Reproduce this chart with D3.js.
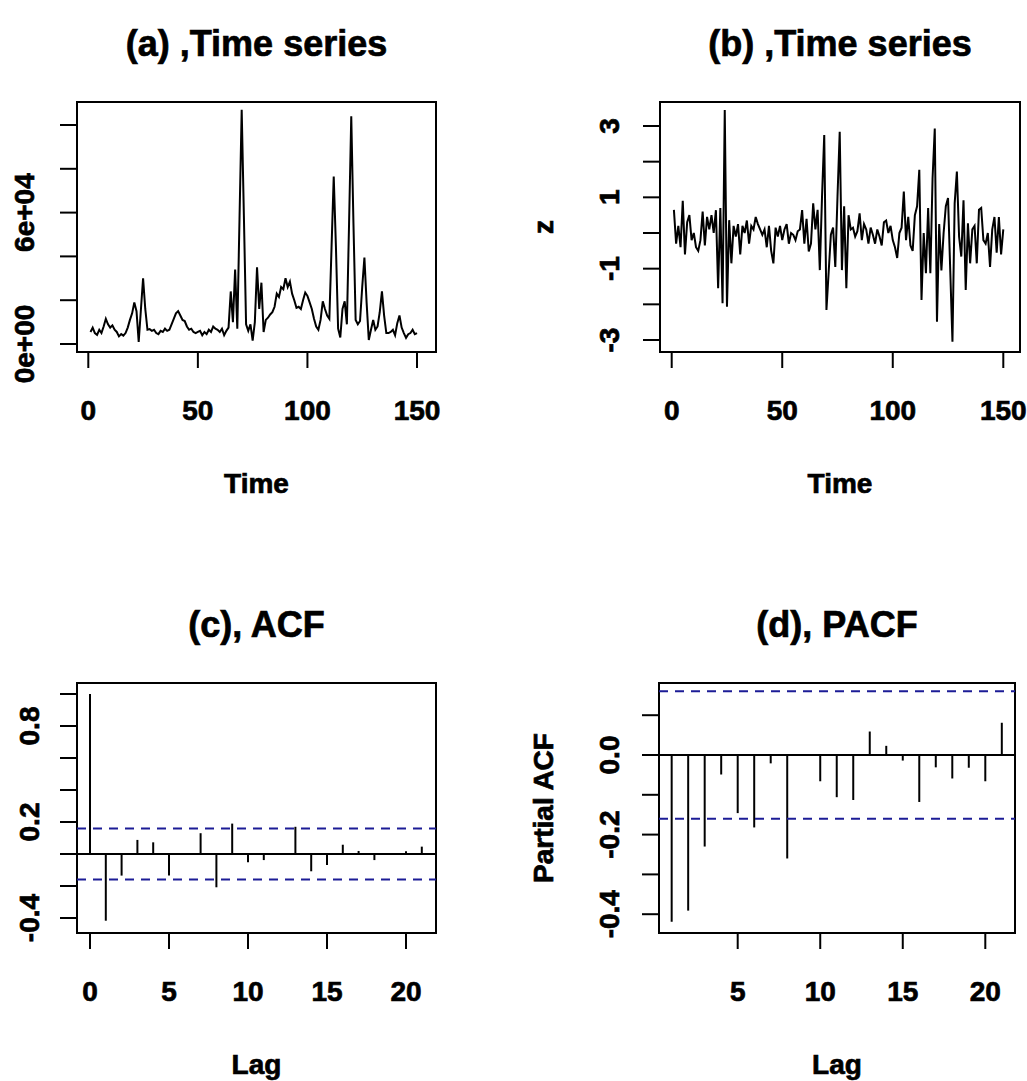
<!DOCTYPE html>
<html>
<head>
<meta charset="utf-8">
<script src="https://cdn.jsdelivr.net/npm/d3@7"></script>
<style>
  body { margin: 0; background: #fff; }
  svg text {
    font-family: "Liberation Sans", Arial, sans-serif;
    font-weight: bold;
    fill: #000;
    stroke: #000;
    stroke-width: 0.7px;
  }
</style>
</head>
<body>
<svg id="chart" width="1027" height="1081"></svg>
<script>
/* ============================================================
   Time series / ACF / PACF – 2x2 panel (R base graphics look)
   ============================================================ */

// ─── (a) raw series, t = 1..150 ─────────────────────────
const seriesA = [
  5500, 7500, 5000, 4200, 6500, 5000, 8000, 11500, 9000, 7500,
  8500, 6500, 5500, 3500, 4500, 3800, 5000, 7500, 11000, 14000,
  19000, 15000, 1000, 15500, 30000, 16000, 6500, 6800, 6000, 6500,
  5000, 4500, 6000, 5500, 7000, 6000, 6500, 9000, 11500, 14000,
  15000, 13000, 11000, 10500, 8000, 6500, 7000, 5500, 5000, 5500,
  6000, 4000, 5500, 4500, 6500, 5500, 8000, 7000, 6500, 5500,
  7000, 4000, 6000, 7500, 24000, 10000, 34000, 7000, 57000, 107000,
  58500, 9000, 6000, 9000, 1500, 10000, 35000, 16000, 28000, 5500,
  11000, 12000, 13500, 14500, 17000, 23000, 21500, 26000, 25000, 30000,
  26000, 28500, 23000, 20000, 16500, 17000, 16000, 20000, 23500, 22000,
  19000, 16000, 11500, 8000, 6500, 11000, 19500, 16000, 13000, 11500,
  44000, 76500, 44500, 7000, 3000, 16000, 19500, 9000, 55000, 104000,
  55000, 11000, 9000, 10500, 26000, 39500, 19000, 1800, 6500, 11000,
  6500, 8000, 14500, 24000, 13000, 5000, 5000, 5500, 6500, 4000,
  9500, 13000, 7500, 5000, 2800, 4500, 5000, 6500, 4500, 5000
];

// ─── (b) transformed series z, t = 1..150 ───────────────
const seriesZ = [
  0.65, -0.3, 0.2, -0.4, 0.9, -0.6, 0.3, 0.5, -0.2, 0.0,
  -0.4, -0.5, -0.2, 0.6, -0.35, 0.45, 0.1, 0.5, 0.0, 0.64,
  -1.55, 0.7, -1.97, 3.45, -2.07, 0.36, -0.85, 0.2, -0.1, 0.25,
  -0.6, 0.2, 0.0, 0.35, -0.3, 0.2, 0.1, 0.45, 0.25, 0.1,
  -0.05, 0.1, -0.4, 0.2, -0.5, -0.85, 0.15, -0.1, 0.2, -0.2,
  0.1, 0.25, -0.3, 0.0, -0.05, -0.2, 0.05, 0.1, 0.64, -0.3,
  0.4, -0.52, -0.3, 0.83, 0.1, 0.65, -1.04, 1.02, 2.75, -2.16,
  -1.1, -0.05, 0.15, -0.95, 1.02, 2.84, -1.04, 0.75, -1.55, 0.5,
  0.1, 0.15, -0.1, 0.05, 0.55, -0.2, 0.25, 0.1, -0.3, 0.15,
  -0.05, -0.3, 0.1, -0.1, -0.35, 0.3, 0.35, 0.0, 0.2, -0.2,
  -0.4, -0.7, 0.0, 0.15, 1.16, -0.2, 0.45, -0.35, -0.5, 0.5,
  0.75, 1.77, -1.88, 0.0, -1.13, 0.7, -1.13, 1.53, 2.93, -2.49,
  0.25, -1.05, 0.0, 0.75, 0.98, -1.05, -3.05, 0.83, 1.72, -0.1,
  -0.66, 0.92, -1.6, 0.27, -0.85, 0.1, 0.2, -0.85, 0.65, 0.7,
  -0.2, -0.3, 0.0, -0.95, 0.1, 0.45, -0.55, 0.45, -0.6, 0.1
];

// ─── (c) ACF, lags 0..21 ────────────────────────────────
const acfLags = [0, 1, 2, 3, 4, 5, 6, 7, 8, 9, 10, 11, 12, 13, 14, 15, 16, 17, 18, 19, 20, 21];
const acfValues = [
  1.0, -0.417, -0.135, 0.088, 0.073, -0.135, 0.004, 0.13, -0.208, 0.19, -0.052,
  -0.038, -0.003, 0.17, -0.108, -0.069, 0.058, 0.019, -0.038, 0.0, 0.017, 0.046
];

// ─── (d) PACF, lags 1..21 ───────────────────────────────
const pacfLags = [1, 2, 3, 4, 5, 6, 7, 8, 9, 10, 11, 12, 13, 14, 15, 16, 17, 18, 19, 20, 21];
const pacfValues = [
  -0.419, -0.391, -0.230, -0.049, -0.146, -0.182, -0.021, -0.260, -0.002, -0.066,
  -0.106, -0.113, 0.059, 0.023, -0.014, -0.118, -0.031, -0.059, -0.032, -0.066, 0.081
];

// confidence band for n = 150
const ciBound = 0.16;

// ─── tick values / labels ───────────────────────────────
const timeTicks = [0, 50, 100, 150];
const aYTicks = [0, 20000, 40000, 60000, 80000, 100000];
const aYLabels = { 0: '0e+00', 60000: '6e+04' };
const zYTicks = [-3, -2, -1, 0, 1, 2, 3];
const zYLabels = { 3: '3', 1: '1', '-1': '-1', '-3': '-3' };
const acfXTicks = [0, 5, 10, 15, 20];
const acfYTicks = [-0.4, -0.2, 0.0, 0.2, 0.4, 0.6, 0.8, 1.0];
const acfYLabels = { '0.8': '0.8', '0.2': '0.2', '-0.4': '-0.4' };
const pacfXTicks = [5, 10, 15, 20];
const pacfYTicks = [-0.4, -0.3, -0.2, -0.1, 0.0, 0.1];
const pacfYLabels = { '0': '0.0', '-0.2': '-0.2', '-0.4': '-0.4' };

const timeIdx = d3.range(1, 151);

const svg = d3.select('#chart');
const BLUE = '#1c1c96';

function key(v) { return String(+v.toFixed(2)); }

function drawFrame(p) {
  const g = svg.append('g');
  const b = p.box;
  const cx = (b.l + b.r) / 2;

  // plot box
  g.append('rect')
    .attr('x', b.l).attr('y', b.t)
    .attr('width', b.r - b.l).attr('height', b.b - b.t)
    .attr('fill', 'none').attr('stroke', '#000').attr('stroke-width', 2);

  // x axis
  g.selectAll('.xt').data(p.xTicks).enter().append('line')
    .attr('x1', d => p.x(d)).attr('x2', d => p.x(d))
    .attr('y1', b.b).attr('y2', b.b + 16)
    .attr('stroke', '#000').attr('stroke-width', 2);
  g.selectAll('.xl').data(p.xTicks).enter().append('text')
    .attr('x', d => p.x(d)).attr('y', b.b + 68)
    .attr('text-anchor', 'middle').attr('font-size', 28)
    .text(d => d);

  // y axis
  g.selectAll('.yt').data(p.yTicks).enter().append('line')
    .attr('x1', b.l - 17).attr('x2', b.l)
    .attr('y1', d => p.y(d)).attr('y2', d => p.y(d))
    .attr('stroke', '#000').attr('stroke-width', 2);
  g.selectAll('.yl').data(p.yTicks.filter(d => p.yLabels[key(d)] !== undefined))
    .enter().append('text')
    .attr('transform', d => `translate(${p.yLabelX},${p.y(d)}) rotate(-90)`)
    .attr('text-anchor', 'middle').attr('font-size', 28)
    .text(d => p.yLabels[key(d)]);

  // titles
  g.append('text')
    .attr('x', cx).attr('y', b.t - 46)
    .attr('text-anchor', 'middle').attr('font-size', 36)
    .text(p.title);
  g.append('text')
    .attr('x', cx).attr('y', b.b + 141)
    .attr('text-anchor', 'middle').attr('font-size', 28)
    .text(p.xlab);
  if (p.ylab) {
    g.append('text')
      .attr('transform', `translate(${p.ylabX},${(b.t + b.b) / 2}) rotate(-90)`)
      .attr('text-anchor', 'middle').attr('font-size', 28)
      .text(p.ylab);
  }
  return g;
}

function drawSeries(p, values) {
  const g = drawFrame(p);
  const line = d3.line()
    .x((d, i) => p.x(timeIdx[i]))
    .y(d => p.y(d));
  g.append('path')
    .datum(values)
    .attr('d', line)
    .attr('fill', 'none')
    .attr('stroke', '#000')
    .attr('stroke-width', 2)
    .attr('stroke-linejoin', 'miter');
}

function drawCorr(p, lags, values) {
  const g = drawFrame(p);
  const b = p.box;
  // zero line
  g.append('line')
    .attr('x1', b.l).attr('x2', b.r)
    .attr('y1', p.y(0)).attr('y2', p.y(0))
    .attr('stroke', '#000').attr('stroke-width', 2);
  // spikes
  g.selectAll('.spike').data(values).enter().append('line')
    .attr('x1', (d, i) => p.x(lags[i])).attr('x2', (d, i) => p.x(lags[i]))
    .attr('y1', p.y(0)).attr('y2', d => p.y(d))
    .attr('stroke', '#000').attr('stroke-width', 2);
  // confidence limits
  g.selectAll('.ci').data([ciBound, -ciBound]).enter().append('line')
    .attr('x1', b.l).attr('x2', b.r)
    .attr('y1', d => p.y(d)).attr('y2', d => p.y(d))
    .attr('stroke', BLUE).attr('stroke-width', 2)
    .attr('stroke-dasharray', '9,7');
}

// (a)
drawSeries({
  box: { l: 77, r: 436, t: 102, b: 352 },
  x: d3.scaleLinear().domain([0, 150]).range([88.3, 417]),
  y: d3.scaleLinear().domain([0, 100000]).range([344, 125]),
  xTicks: timeTicks, yTicks: aYTicks, yLabels: aYLabels, yLabelX: 34,
  title: '(a) ,Time series', xlab: 'Time'
}, seriesA);

// (b)
drawSeries({
  box: { l: 660, r: 1020, t: 102, b: 352 },
  x: d3.scaleLinear().domain([0, 150]).range([671.7, 1003.3]),
  y: d3.scaleLinear().domain([-3, 3]).range([340, 126]),
  xTicks: timeTicks, yTicks: zYTicks, yLabels: zYLabels, yLabelX: 619,
  title: '(b) ,Time series', xlab: 'Time', ylab: 'z', ylabX: 553
}, seriesZ);

// (c)
drawCorr({
  box: { l: 77, r: 436, t: 683, b: 933 },
  x: d3.scaleLinear().domain([0, 20]).range([90, 406]),
  y: d3.scaleLinear().domain([-0.4, 1.0]).range([918, 694]),
  xTicks: acfXTicks, yTicks: acfYTicks, yLabels: acfYLabels, yLabelX: 39,
  title: '(c), ACF', xlab: 'Lag'
}, acfLags, acfValues);

// (d)
drawCorr({
  box: { l: 659, r: 1015, t: 683, b: 933 },
  x: d3.scaleLinear().domain([5, 20]).range([737.7, 985.3]),
  y: d3.scaleLinear().domain([-0.4, 0.1]).range([914.2, 715.2]),
  xTicks: pacfXTicks, yTicks: pacfYTicks, yLabels: pacfYLabels, yLabelX: 619,
  title: '(d), PACF', xlab: 'Lag', ylab: 'Partial ACF', ylabX: 553
}, pacfLags, pacfValues);
</script>
</body>
</html>
